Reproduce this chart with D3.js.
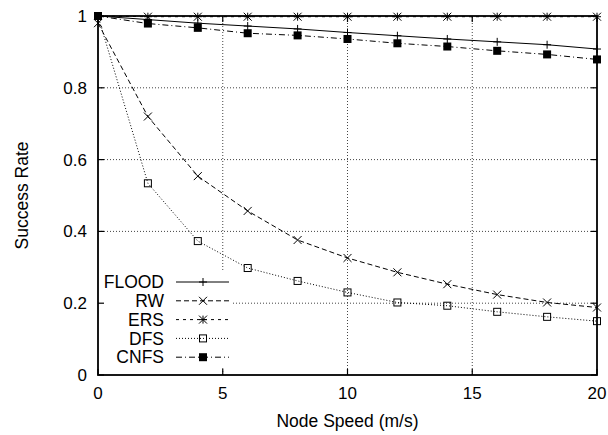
<!DOCTYPE html>
<html>
<head>
<meta charset="utf-8">
<script src="https://cdn.jsdelivr.net/npm/d3@7/dist/d3.min.js"></script>
<style>
  body { margin: 0; background: #fff; }
  text { font-family: "Liberation Sans", Arial, sans-serif; }
</style>
</head>
<body>
<div id="chart"></div>
<script>
// Data
const speeds = [0, 2, 4, 6, 8, 10, 12, 14, 16, 18, 20];
const flood = [1.0, 0.99, 0.98, 0.972, 0.964, 0.954, 0.945, 0.936, 0.928, 0.92, 0.908];
const rw = [0.98, 0.72, 0.554, 0.457, 0.376, 0.326, 0.286, 0.253, 0.224, 0.202, 0.188];
const ers = [1.0, 0.998, 0.998, 0.998, 0.998, 0.998, 0.998, 0.998, 0.998, 0.998, 0.998];
const dfs = [1.0, 0.534, 0.373, 0.298, 0.262, 0.23, 0.202, 0.193, 0.176, 0.162, 0.15];
const cnfs = [1.0, 0.979, 0.967, 0.952, 0.946, 0.936, 0.924, 0.915, 0.903, 0.893, 0.879];

const xTicks = [0, 5, 10, 15, 20];
const yTicks = [0, 0.2, 0.4, 0.6, 0.8, 1];

const series = [
    { name: 'FLOOD', values: flood, dash: null, marker: 'plus' },
    { name: 'RW', values: rw, dash: '5,3', marker: 'cross' },
    { name: 'ERS', values: ers, dash: '3,4', marker: 'star' },
    { name: 'DFS', values: dfs, dash: '1,2', marker: 'openSquare' },
    { name: 'CNFS', values: cnfs, dash: '6,3,1,3', marker: 'filledSquare' }
];

const width = 608;
const height = 435;
const margin = { left: 98, right: 11, top: 16, bottom: 60 };

const svg = d3.select('#chart')
    .append('svg')
    .attr('width', width)
    .attr('height', height);

const x = d3.scaleLinear().domain([0, 20]).range([margin.left, width - margin.right]);
const y = d3.scaleLinear().domain([0, 1]).range([height - margin.bottom, margin.top]);

// Grid lines
const grid = svg.append('g')
    .attr('stroke', '#444')
    .attr('stroke-width', 1)
    .attr('stroke-dasharray', '1,2');

grid.selectAll('.gx')
    .data(xTicks.slice(1, -1))
    .join('line')
    .attr('x1', d => x(d)).attr('x2', d => x(d))
    .attr('y1', y(0)).attr('y2', y(1));

grid.selectAll('.gy')
    .data(yTicks.slice(1, -1))
    .join('line')
    .attr('x1', x(0)).attr('x2', x(20))
    .attr('y1', d => y(d)).attr('y2', d => y(d));

// Legend background covers the grid
const legendX = 164;
const legendY = 282;
const legendStep = 18.8;
svg.append('rect')
    .attr('x', 100).attr('y', legendY - 10)
    .attr('width', 132).attr('height', legendStep * 5)
    .attr('fill', '#fff');

// Markers
function drawMarker(g, type, cx, cy) {
    const s = 4;
    if (type === 'plus') {
        g.append('path')
            .attr('d', `M${cx - s},${cy}H${cx + s}M${cx},${cy - s}V${cy + s}`)
            .attr('stroke', '#000').attr('fill', 'none');
    } else if (type === 'cross') {
        g.append('path')
            .attr('d', `M${cx - s},${cy - s}L${cx + s},${cy + s}M${cx - s},${cy + s}L${cx + s},${cy - s}`)
            .attr('stroke', '#000').attr('fill', 'none');
    } else if (type === 'star') {
        g.append('path')
            .attr('d', `M${cx - s},${cy}H${cx + s}M${cx},${cy - s}V${cy + s}` +
                `M${cx - s},${cy - s}L${cx + s},${cy + s}M${cx - s},${cy + s}L${cx + s},${cy - s}`)
            .attr('stroke', '#000').attr('fill', 'none');
    } else if (type === 'openSquare') {
        g.append('rect')
            .attr('x', cx - 3.5).attr('y', cy - 3.5)
            .attr('width', 7).attr('height', 7)
            .attr('stroke', '#000').attr('fill', 'none');
    } else if (type === 'filledSquare') {
        g.append('rect')
            .attr('x', cx - 4).attr('y', cy - 4)
            .attr('width', 8).attr('height', 8)
            .attr('fill', '#000');
    }
}

const line = d3.line()
    .x((d, i) => x(speeds[i]))
    .y(d => y(d));

// Series lines and markers
series.forEach(s => {
    const g = svg.append('g');
    g.append('path')
        .datum(s.values)
        .attr('d', line)
        .attr('fill', 'none')
        .attr('stroke', '#000')
        .attr('stroke-width', 1)
        .attr('stroke-dasharray', s.dash);
    s.values.forEach((v, i) => drawMarker(g, s.marker, x(speeds[i]), y(v)));
});

// Legend
series.forEach((s, i) => {
    const ly = legendY + i * legendStep;
    const g = svg.append('g');
    g.append('text')
        .attr('x', legendX).attr('y', ly)
        .attr('dy', '0.35em')
        .attr('text-anchor', 'end')
        .style('font-size', '17.5px')
        .text(s.name);
    g.append('line')
        .attr('x1', 176).attr('x2', 229)
        .attr('y1', ly).attr('y2', ly)
        .attr('stroke', '#000')
        .attr('stroke-dasharray', s.dash);
    drawMarker(g, s.marker, 203, ly);
});

// Border
svg.append('rect')
    .attr('x', x(0)).attr('y', y(1))
    .attr('width', x(20) - x(0)).attr('height', y(0) - y(1))
    .attr('fill', 'none')
    .attr('stroke', '#000')
    .attr('stroke-width', 1.8);

// Ticks (inward, mirrored)
const tickLen = 6;
const ticks = svg.append('g').attr('stroke', '#000').attr('stroke-width', 1.2);
xTicks.forEach(t => {
    ticks.append('line').attr('x1', x(t)).attr('x2', x(t)).attr('y1', y(0)).attr('y2', y(0) - tickLen);
    ticks.append('line').attr('x1', x(t)).attr('x2', x(t)).attr('y1', y(1)).attr('y2', y(1) + tickLen);
});
yTicks.forEach(t => {
    ticks.append('line').attr('x1', x(0)).attr('x2', x(0) + tickLen).attr('y1', y(t)).attr('y2', y(t));
    ticks.append('line').attr('x1', x(20)).attr('x2', x(20) - tickLen).attr('y1', y(t)).attr('y2', y(t));
});

// Tick labels
svg.append('g').selectAll('text')
    .data(xTicks)
    .join('text')
    .attr('x', d => x(d))
    .attr('y', 399)
    .attr('text-anchor', 'middle')
    .style('font-size', '17px')
    .text(d => d);

svg.append('g').selectAll('text')
    .data(yTicks)
    .join('text')
    .attr('x', x(0) - 11)
    .attr('y', d => y(d))
    .attr('dy', '0.35em')
    .attr('text-anchor', 'end')
    .style('font-size', '17px')
    .text(d => d);

// Axis titles
svg.append('text')
    .attr('x', (x(0) + x(20)) / 2)
    .attr('y', 427)
    .attr('text-anchor', 'middle')
    .style('font-size', '17.5px')
    .text('Node Speed (m/s)');

svg.append('text')
    .attr('transform', `translate(28,${(y(0) + y(1)) / 2}) rotate(-90)`)
    .attr('text-anchor', 'middle')
    .style('font-size', '17.5px')
    .text('Success Rate');
</script>
</body>
</html>
